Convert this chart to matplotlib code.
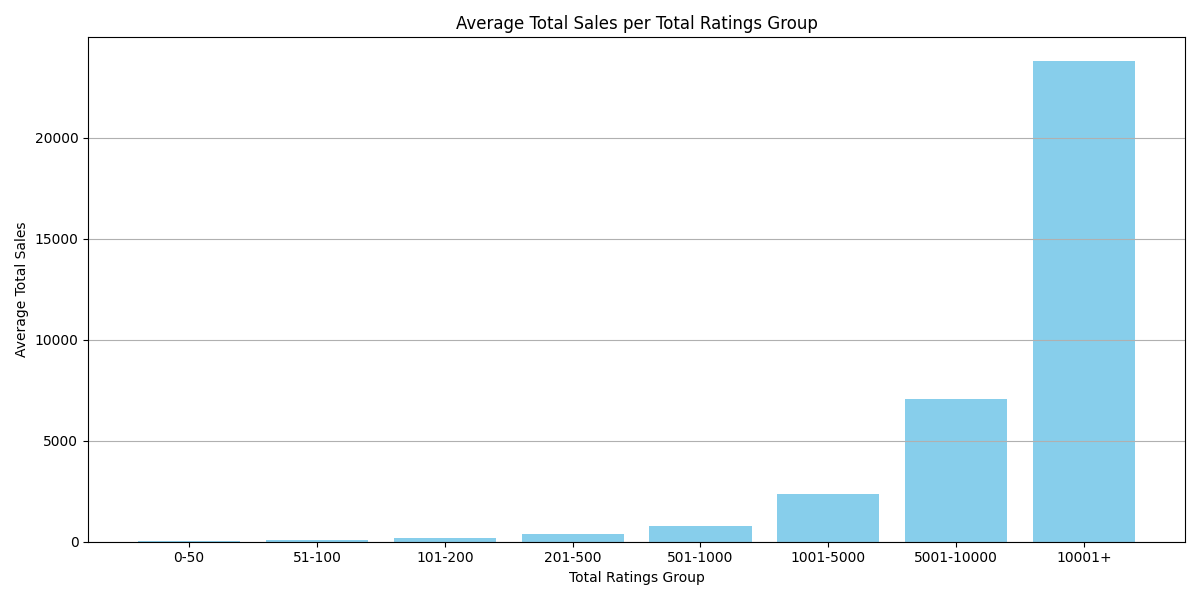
import matplotlib
matplotlib.use("Agg")
import matplotlib.pyplot as plt

groups = ['0-50', '51-100', '101-200', '201-500', '501-1000', '1001-5000', '5001-10000', '10001+']
avg_sales = [40, 110, 165, 375, 760, 2340, 7045, 23780]

plt.figure(figsize=(12, 6))
plt.bar(groups, avg_sales, color='skyblue')
plt.title('Average Total Sales per Total Ratings Group')
plt.xlabel('Total Ratings Group')
plt.ylabel('Average Total Sales')
plt.grid(axis='y')
plt.tight_layout()
plt.savefig('out.png', dpi=100)
